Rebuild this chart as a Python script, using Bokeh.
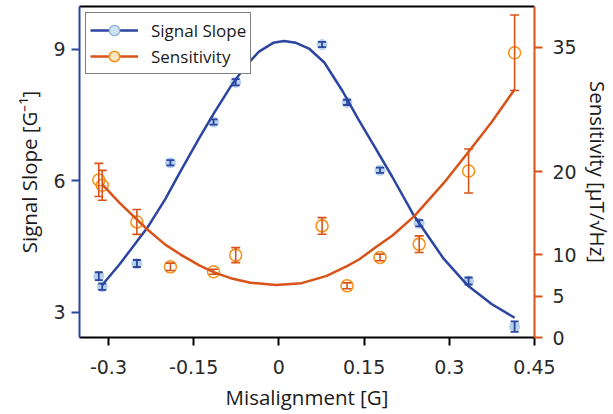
from bokeh.plotting import figure
from bokeh.models import (Range1d, LinearAxis, FixedTicker, Whisker, ColumnDataSource,
                          TeeHead, Legend, LegendItem, NumeralTickFormatter)
from bokeh.embed import file_html
from bokeh.resources import INLINE

# ---- data ----
misalign = [-0.317, -0.311, -0.250, -0.191, -0.115, -0.076, 0.076, 0.120, 0.178, 0.247, 0.334, 0.415]
slope = [3.82, 3.58, 4.11, 6.41, 7.34, 8.25, 9.11, 7.79, 6.24, 5.03, 3.71, 2.67]
slope_err = [0.09, 0.07, 0.08, 0.06, 0.06, 0.07, 0.06, 0.06, 0.06, 0.07, 0.08, 0.12]
sens = [18.99, 18.35, 13.93, 8.52, 7.92, 9.93, 13.45, 6.23, 9.65, 11.25, 20.07, 34.32]
sens_err = [2.0, 1.8, 1.5, 0.45, 0.3, 0.9, 1.0, 0.35, 0.4, 1.0, 2.65, 4.55]

fit_x_slope = [-0.311, -0.28, -0.232, -0.2, -0.173, -0.14, -0.114, -0.085, -0.06, -0.035, -0.01,
               0.009, 0.03, 0.053, 0.08, 0.112, 0.14, 0.171, 0.2, 0.238, 0.29, 0.333, 0.375, 0.415]
fit_slope = [3.62, 4.10, 4.92, 5.58, 6.22, 6.98, 7.55, 8.15, 8.60, 8.95, 9.15,
             9.19, 9.15, 9.02, 8.70, 8.05, 7.40, 6.72, 6.08, 5.20, 4.22, 3.60, 3.18, 2.87]

fit_x_sens = [-0.311, -0.28, -0.232, -0.2, -0.173, -0.14, -0.114, -0.085, -0.05, -0.005, 0.04,
              0.083, 0.12, 0.141, 0.171, 0.2, 0.238, 0.29, 0.333, 0.375, 0.415]
fit_sens = [18.45, 16.2, 13.05, 11.2, 10.0, 8.7, 7.85, 7.15, 6.6, 6.32, 6.55,
            7.4, 8.6, 9.4, 10.9, 12.3, 14.6, 18.6, 22.3, 26.0, 29.9]

x_ticks = [-0.3, -0.15, 0, 0.15, 0.3, 0.45]
left_ticks = [3, 6, 9]
right_ticks = [0, 5, 10, 20, 35]

# ---- styling ----
BLUE = "#2b45a0"
LBLUE = "#a8c9e8"
ORANGE = "#d95319"
LORANGE = "#f7941d"
TICK_FONT = "DejaVu Sans"
LABEL_FONT = "Open Sans"

p = figure(frame_width=455, frame_height=331, output_backend="svg", toolbar_location=None,
           x_range=Range1d(-0.351, 0.45), y_range=Range1d(2.42, 9.98),
           min_border_left=79, min_border_right=40, min_border_top=6, min_border_bottom=40)
p.extra_y_ranges = {"right": Range1d(0, 39.9)}
p.grid.visible = False
p.outline_line_color = None
p.background_fill_color = "white"
p.border_fill_color = "white"

src_s = ColumnDataSource(dict(x=misalign, y=slope,
                              lo=[a - b for a, b in zip(slope, slope_err)],
                              hi=[a + b for a, b in zip(slope, slope_err)]))
src_r = ColumnDataSource(dict(x=misalign, y=sens,
                              lo=[a - b for a, b in zip(sens, sens_err)],
                              hi=[a + b for a, b in zip(sens, sens_err)]))

# markers
p.scatter("x", "y", source=src_s, size=11, fill_color=LBLUE, fill_alpha=0.85, line_color=None)
p.scatter("x", "y", source=src_r, size=12, fill_color=None, line_color=LORANGE, line_width=1.6,
          y_range_name="right")

# fit curves
l1 = p.line(fit_x_slope, fit_slope, line_color=BLUE, line_width=2.5)
l2 = p.line(fit_x_sens, fit_sens, line_color=ORANGE, line_width=2.5, y_range_name="right")

# error bars
wb = Whisker(source=src_s, base="x", upper="hi", lower="lo", line_color=BLUE, line_width=1.8,
             level="annotation",
             upper_head=TeeHead(size=8, line_color=BLUE, line_width=1.8),
             lower_head=TeeHead(size=8, line_color=BLUE, line_width=1.8))
p.add_layout(wb)
wo = Whisker(source=src_r, base="x", upper="hi", lower="lo", line_color=ORANGE, line_width=1.6,
             y_range_name="right", level="annotation",
             upper_head=TeeHead(size=9, line_color=ORANGE, line_width=1.6),
             lower_head=TeeHead(size=9, line_color=ORANGE, line_width=1.6))
p.add_layout(wo)

# legend-only markers (placed outside the visible ranges)
m1 = p.scatter(x=[5.0], y=[50.0], size=12, fill_color="#cfe2f3", line_color="#8db3d6", line_width=1.3)
m2 = p.scatter(x=[5.0], y=[50.0], size=12, fill_color="#fde6c0", line_color=LORANGE, line_width=1.6)

legend = Legend(items=[LegendItem(label="Signal Slope", renderers=[l1, m1]),
                       LegendItem(label="Sensitivity", renderers=[l2, m2])],
                location="top_left", margin=6, padding=4, spacing=-4,
                glyph_width=48, glyph_height=26, label_standoff=13,
                label_text_font=LABEL_FONT, label_text_font_size="17px",
                label_text_color="#1a1a1a",
                border_line_color="black", border_line_width=1.5,
                background_fill_color="white", background_fill_alpha=1.0)
p.add_layout(legend, "center")

# axes
def style(ax, color):
    ax.axis_line_color = color
    ax.axis_line_width = 2
    ax.major_tick_line_color = color
    ax.major_tick_line_width = 2
    ax.major_tick_out = 8
    ax.major_tick_in = 0
    ax.minor_tick_line_color = None
    ax.major_label_text_font = TICK_FONT
    ax.major_label_text_font_size = "19px"
    ax.major_label_text_color = "#2a2a2a"
    ax.axis_label_text_font = LABEL_FONT
    ax.axis_label_text_font_size = "20.5px"
    ax.axis_label_text_font_style = "normal"
    ax.axis_label_text_color = "#1a1a1a"

xa = p.xaxis[0]
style(xa, "black")
xa.ticker = FixedTicker(ticks=x_ticks)
xa.formatter = NumeralTickFormatter(format="0.[00]")
xa.axis_label = "Misalignment [G]"
xa.major_label_standoff = 14
xa.axis_label_standoff = 6

ya = p.yaxis[0]
style(ya, BLUE)
ya.ticker = FixedTicker(ticks=left_ticks)
ya.axis_label = "Signal Slope [G⁻¹]"
ya.major_label_standoff = 6
ya.axis_label_standoff = 7

ra = LinearAxis(y_range_name="right")
style(ra, ORANGE)
ra.ticker = FixedTicker(ticks=right_ticks)
ra.axis_label = "Sensitivity [µT/√Hz]"
ra.major_label_standoff = 10
ra.axis_label_standoff = 4
p.add_layout(ra, "right")

top = LinearAxis(ticker=FixedTicker(ticks=[]))
top.axis_line_color = "black"
top.axis_line_width = 2
top.major_tick_line_color = None
top.minor_tick_line_color = None
top.major_label_text_font_size = "0px"
top.major_label_standoff = 0
p.add_layout(top, "above")

open("out.html", "w").write(file_html(p, INLINE))
